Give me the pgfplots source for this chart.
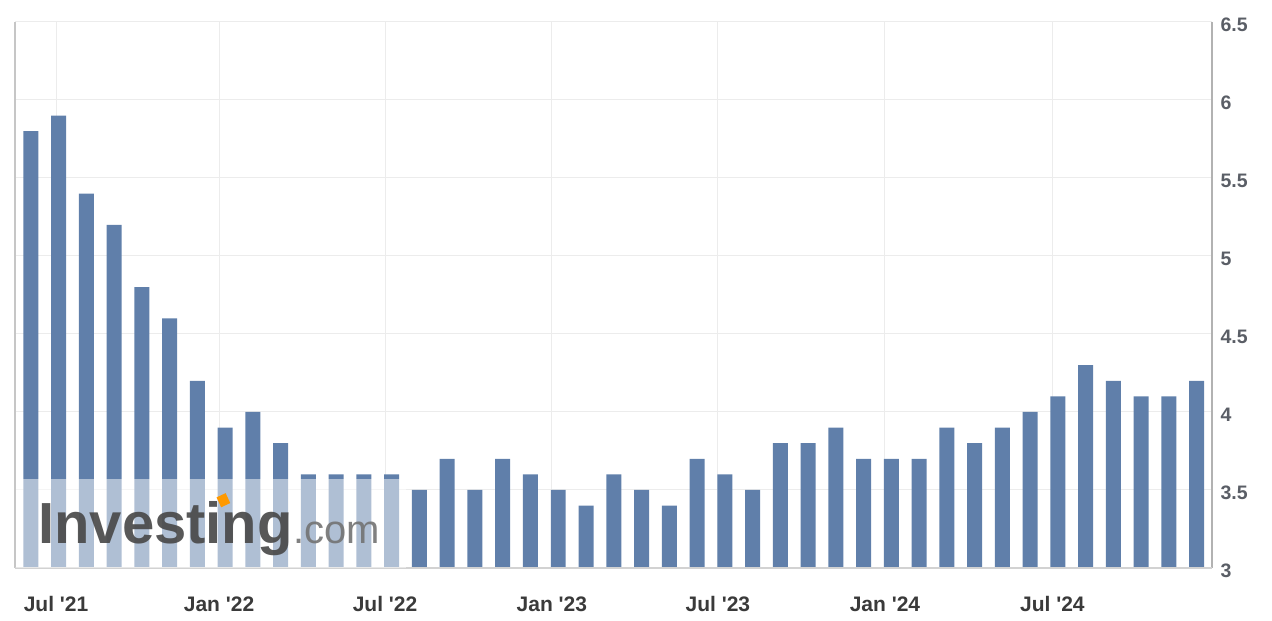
\documentclass[border=0pt]{standalone}
\usepackage{fontspec}
\setmainfont{Liberation Sans}
\usepackage{pgfplots}
\pgfplotsset{compat=1.18}

\definecolor{barblue}{HTML}{607FAA}
\definecolor{gridgray}{HTML}{ECECEC}
\definecolor{labgray}{HTML}{3A3A3A}
\definecolor{ylabgray}{HTML}{5A5E66}

% monthly values, index 0 = Jun 2021 ... 42 = Dec 2024
\pgfplotstableread{
k v
0 5.8
1 5.9
2 5.4
3 5.2
4 4.8
5 4.6
6 4.2
7 3.9
8 4.0
9 3.8
10 3.6
11 3.6
12 3.6
13 3.6
14 3.5
15 3.7
16 3.5
17 3.7
18 3.6
19 3.5
20 3.4
21 3.6
22 3.5
23 3.4
24 3.7
25 3.6
26 3.5
27 3.8
28 3.8
29 3.9
30 3.7
31 3.7
32 3.7
33 3.9
34 3.8
35 3.9
36 4.0
37 4.1
38 4.3
39 4.2
40 4.1
41 4.1
42 4.2
}\rates

\newcommand{\q}{\textquotesingle}

\begin{document}
\begin{tikzpicture}
\path[use as bounding box] (-15pt,-53pt) rectangle (1257pt,568pt);
\begin{axis}[
  at={(0,0)}, anchor=south west,
  scale only axis, width=1197pt, height=546pt,
  xmin=-0.569, xmax=42.55,
  ymin=3, ymax=6.5,
  ytick={3,3.5,...,6.5},
  yticklabel pos=right,
  xtick={0.91,6.78,12.76,18.77,24.75,30.77,36.8},
  xticklabels={Jul \q21,Jan \q22,Jul \q22,Jan \q23,Jul \q23,Jan \q24,Jul \q24},
  major tick length=0pt,
  grid=major,
  grid style={gridgray, line width=1pt},
  axis line style={draw=none},
  clip=false,
  /pgf/number format/assume math mode=true,
  xticklabel style={font=\fontsize{21}{24}\selectfont\bfseries, text=labgray, anchor=center, yshift=-36pt},
  yticklabel style={font=\fontsize{19.5}{22}\selectfont\bfseries, text=ylabgray, anchor=west, xshift=5pt, yshift=-3pt},
]
\addplot[ybar, bar width=0.54, fill=barblue, draw=none] table[x=k, y=v] {\rates};
% axis frame
\draw[gray!45, line width=2.5pt] (rel axis cs:0,0) -- (rel axis cs:0,1);
\draw[gray!60, line width=2pt] (rel axis cs:1,0) -- (rel axis cs:1,1);
\draw[gray!35, line width=1.5pt] (rel axis cs:0,0) -- (rel axis cs:1,0);
% watermark
\fill[white, opacity=0.5] (axis cs:-0.55,3) rectangle (axis cs:13.5,3.57);
\node[anchor=base west, inner sep=0pt, text=black!72, opacity=0.9,
  font=\fontsize{58}{60}\selectfont\bfseries] (inv) at (axis cs:0.26,3.16) {Investing};
\node[anchor=base west, inner sep=0pt, text=black!55, opacity=0.9,
  font=\fontsize{40}{44}\selectfont] at (inv.base east) {.com};
\fill[orange!80!yellow, rotate around={25:(axis cs:6.95,3.43)}] (axis cs:6.77,3.40) rectangle (axis cs:7.13,3.47);
\end{axis}
\end{tikzpicture}
\end{document}
